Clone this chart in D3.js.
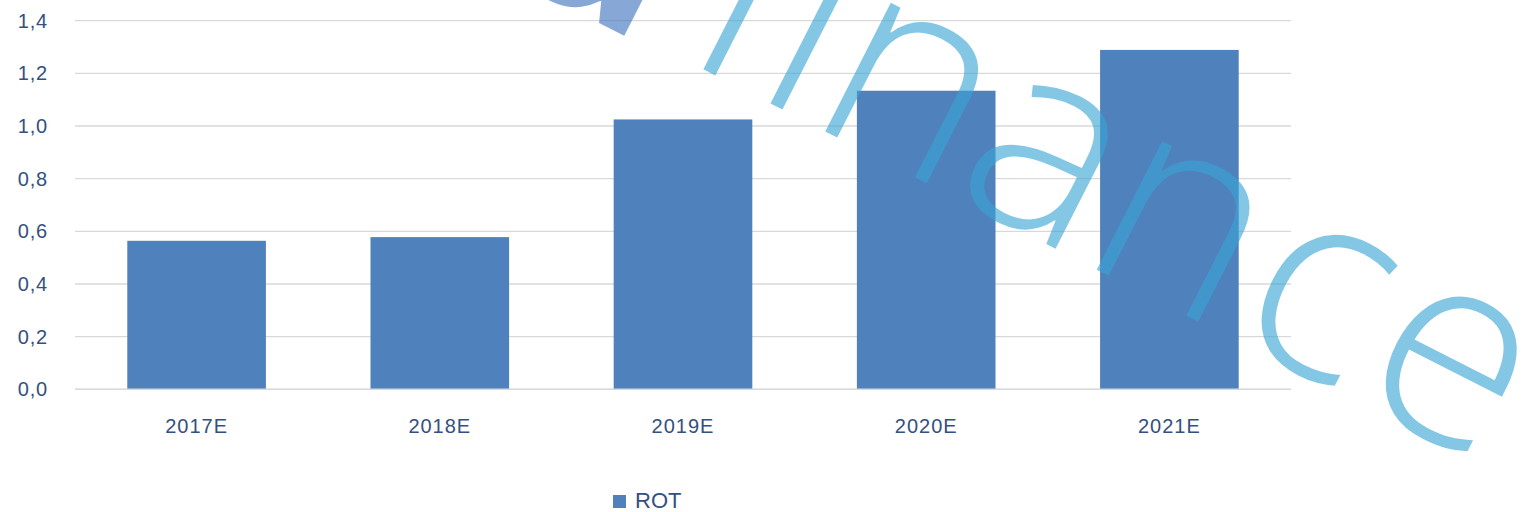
<!DOCTYPE html>
<html><head><meta charset="utf-8">
<script src="https://cdn.jsdelivr.net/npm/d3@7/dist/d3.min.js"></script>
<style>body{margin:0;background:#fff}svg{display:block}</style>
</head><body>
<svg id="c" width="1522" height="512"></svg>
<script>
const categories = ["2017E","2018E","2019E","2020E","2021E"];
const rotValues = [0.564, 0.578, 1.025, 1.134, 1.289];
const yTicks = [0,0.2,0.4,0.6,0.8,1.0,1.2,1.4];
const seriesName = "ROT";

const svg = d3.select("#c");
const m = {left:75, right:1291, top:20.7, bottom:389.3};
const x = d3.scaleBand().domain(categories).range([m.left,m.right]).paddingInner(0.43).paddingOuter(0.215);
const y = d3.scaleLinear().domain([0,1.4]).range([m.bottom,m.top]);
const fmt = v => d3.format(".1f")(v).replace(".",",");
const txt = "#34507e";
const font = "Liberation Sans, Arial, sans-serif";

// grid
svg.append("g").selectAll("line").data(yTicks).join("line")
  .attr("x1",m.left).attr("x2",m.right)
  .attr("y1",d=>y(d)).attr("y2",d=>y(d))
  .attr("stroke","#d9d9d9").attr("stroke-width",1.3);

// y labels
const yAxis = svg.append("g").attr("transform",`translate(${m.left-27},0)`)
  .call(d3.axisLeft(y).tickValues(yTicks).tickFormat(fmt).tickSize(0).tickPadding(0));
yAxis.select(".domain").remove();
yAxis.selectAll("text").attr("fill",txt).style("font-family",font).style("font-size","20px").style("letter-spacing","0.8px");

// bars
svg.append("g").selectAll("rect").data(categories).join("rect")
  .attr("x",d=>x(d)).attr("width",x.bandwidth())
  .attr("y",(d,i)=>y(rotValues[i])).attr("height",(d,i)=>y(0)-y(rotValues[i]))
  .attr("fill","#4f81bd");

// x axis line
svg.append("line").attr("x1",m.left).attr("x2",m.right).attr("y1",y(0)).attr("y2",y(0))
  .attr("stroke","#d9d9d9").attr("stroke-width",1.5);

const xAxis = svg.append("g").attr("transform",`translate(0,${y(0)})`)
  .call(d3.axisBottom(x).tickSize(0).tickPadding(0));
xAxis.select(".domain").remove();
xAxis.selectAll("text").attr("dy",null).attr("y",44).attr("fill",txt)
  .style("font-family",font).style("font-size","20px").style("letter-spacing","1px");

// legend
const lg = svg.append("g").attr("transform","translate(613,495)");
lg.append("rect").attr("width",13).attr("height",13).attr("fill","#4f81bd");
lg.append("text").attr("x",22).attr("y",13).text(seriesName).attr("fill",txt)
  .style("font-family",font).style("font-size","22px");

// watermark
const wm = svg.append("text").attr("transform","translate(530,-19) rotate(27)")
  .style("font-family","'Open Sans', sans-serif").style("font-size","272px").attr("opacity",0.62);
wm.append("tspan").text("a").attr("dx",-35).attr("dy",6).attr("fill","#3f72bd").style("font-weight","700");
wm.append("tspan").text("finan").attr("dx",35).attr("dy",-6).attr("fill","#3aa6d6").style("font-weight","300");
wm.append("tspan").text("c").attr("dx",9).attr("fill","#3aa6d6").style("font-weight","300");
wm.append("tspan").text("e").attr("dx",10).attr("fill","#3aa6d6").style("font-weight","300");
</script>
</body></html>
